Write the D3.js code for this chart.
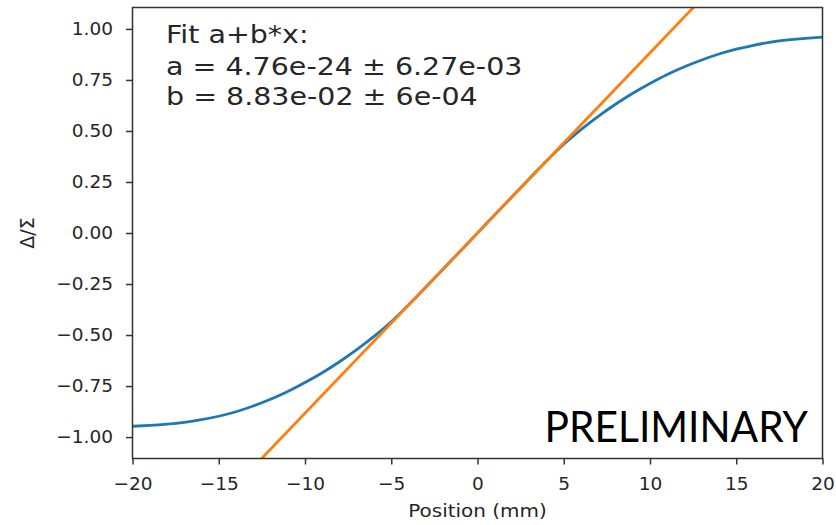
<!DOCTYPE html>
<html>
<head>
<meta charset="utf-8">
<script src="https://cdn.jsdelivr.net/npm/d3@7"></script>
<style>
  html, body { margin: 0; padding: 0; background: #fff; }
  svg { display: block; }
</style>
</head>
<body>
<svg id="chart" width="836" height="525"></svg>
<script>
// ---- data ----
const positions = [-20,-19,-18,-17,-16,-15,-14,-13,-12,-11,-10,-9,-8,-7,-6,-5,-4,-3,-2,-1,0,
                   1,2,3,4,5,6,7,8,9,10,11,12,13,14,15,16,17,18,19,20];
const ratio = [-0.947,-0.943,-0.937,-0.928,-0.915,-0.898,-0.876,-0.848,-0.815,-0.777,-0.733,-0.685,-0.631,-0.572,-0.507,-0.435,-0.353,-0.266,-0.178,-0.089,0,
               0.089,0.178,0.266,0.353,0.435,0.507,0.572,0.631,0.685,0.733,0.777,0.815,0.848,0.877,0.901,0.920,0.935,0.946,0.954,0.960];
const fitX = [-20, 20];
const fitY = [-1.766, 1.766];
const xTicks = [-20,-15,-10,-5,0,5,10,15,20];
const yTicks = [-1.00,-0.75,-0.50,-0.25,0.00,0.25,0.50,0.75,1.00];
const fitLines = ["Fit a+b*x:", "a = 4.76e-24 \u00b1 6.27e-03", "b = 8.83e-02 \u00b1 6e-04"];
const xLabel = "Position (mm)";
const yLabel = "\u0394/\u03a3";
const stamp = "PRELIMINARY";

// ---- layout ----
const L = 132.5, R = 822.5, T = 7.5, B = 458.5;
const svg = d3.select("#chart");
const x = d3.scaleLinear().domain([-20, 20]).range([L, R]);
const y = d3.scaleLinear().domain([-1.105, 1.105]).range([B, T]);

svg.append("defs").append("clipPath").attr("id", "clip")
  .append("rect").attr("x", L).attr("y", T).attr("width", R - L).attr("height", B - T);

const font = "'DejaVu Sans', sans-serif";
const txtColor = "#262626";

// axes
const xAxis = d3.axisBottom(x).tickValues(xTicks).tickFormat(d3.format("d")).tickSize(6).tickPadding(12);
const yAxis = d3.axisLeft(y).tickValues(yTicks).tickFormat(d3.format(".2f")).tickSize(6.5).tickPadding(13);

const gx = svg.append("g").attr("transform", `translate(0,${B})`).call(xAxis);
const gy = svg.append("g").attr("transform", `translate(${L},0)`).call(yAxis);
[gx, gy].forEach(g => {
  g.select(".domain").remove();
  g.selectAll(".tick line").attr("stroke", "#333").attr("stroke-width", 1.5);
  g.selectAll(".tick text").attr("fill", txtColor).style("font-family", font).style("font-size", "18.5px");
});

// lines
const line = d3.line().x(d => x(d[0])).y(d => y(d[1])).curve(d3.curveNatural);
const plot = svg.append("g").attr("clip-path", "url(#clip)");
plot.append("path")
  .datum(positions.map((p, i) => [p, ratio[i]]))
  .attr("d", line).attr("fill", "none").attr("stroke", "#1f77b4").attr("stroke-width", 2.8);
plot.append("path")
  .datum(fitX.map((p, i) => [p, fitY[i]]))
  .attr("d", d3.line().x(d => x(d[0])).y(d => y(d[1]))).attr("fill", "none")
  .attr("stroke", "#ff7f0e").attr("stroke-width", 2.8);

// frame
svg.append("rect").attr("x", L).attr("y", T).attr("width", R - L).attr("height", B - T)
  .attr("fill", "none").attr("stroke", "#333").attr("stroke-width", 1.5);

// labels
svg.append("text").attr("transform", `translate(${(L + R) / 2},517) scale(1.11,1)`).attr("text-anchor", "middle")
  .attr("fill", txtColor).style("font-family", font).style("font-size", "18px").text(xLabel);
svg.append("text").attr("transform", `translate(34,${(T + B) / 2}) rotate(-90)`).attr("text-anchor", "middle")
  .attr("fill", txtColor).style("font-family", font).style("font-size", "19px").text(yLabel);

// fit text
const fitBase = [42.5, 75, 105];
fitLines.forEach((s, i) => {
  svg.append("text").attr("transform", `translate(166,${fitBase[i]}) scale(1.14,1)`).attr("fill", txtColor)
    .style("font-family", font).style("font-size", "25px").text(s);
});

// stamp
svg.append("text").attr("transform", "translate(808,442) scale(0.97,1)").attr("text-anchor", "end").attr("fill", "#000")
  .style("font-family", "Lato, 'Open Sans', sans-serif").style("font-size", "42px").text(stamp);
</script>
</body>
</html>
